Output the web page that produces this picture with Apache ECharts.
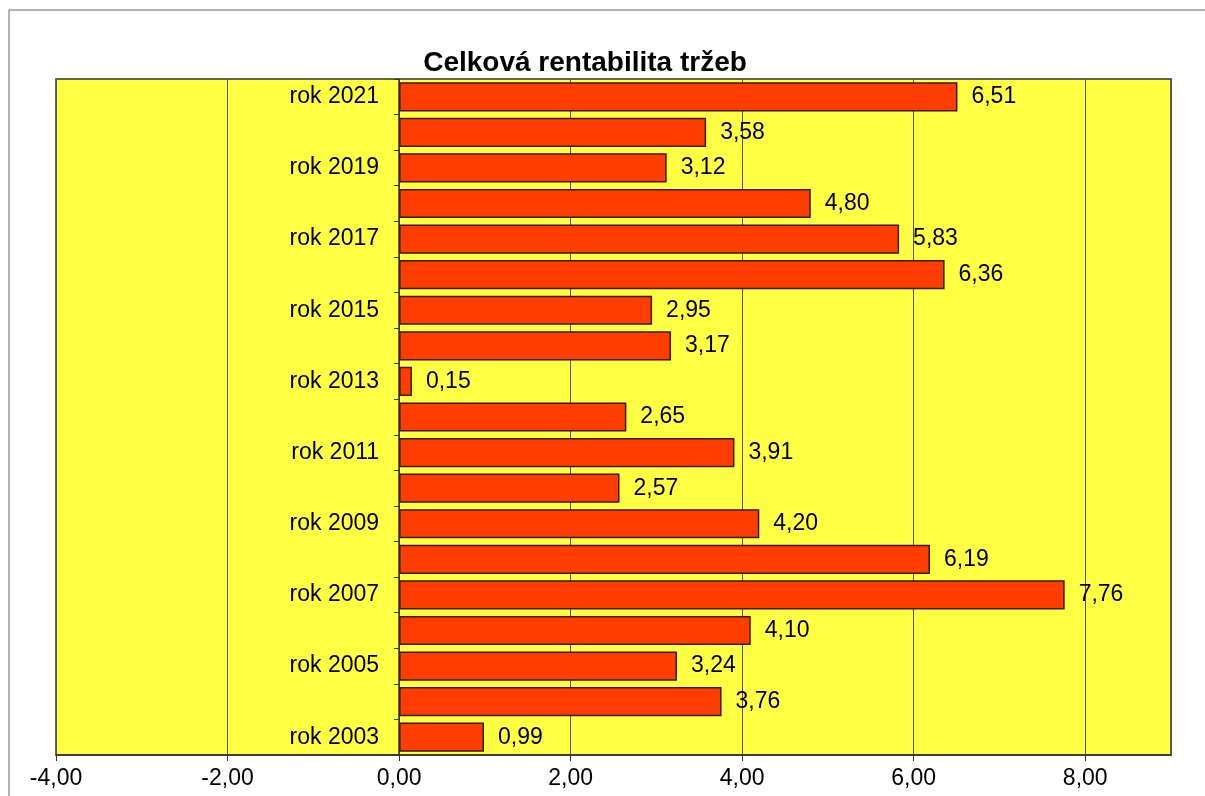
<!DOCTYPE html>
<html><head><meta charset="utf-8">
<script src="https://cdn.jsdelivr.net/npm/echarts@6/dist/echarts.min.js"></script>
<style>html,body{margin:0;padding:0;background:#fff}#c{width:1205px;height:796px}</style>
</head><body><div id="c"></div>
<script>
const titleText = 'Celková rentabilita tržeb';
const years = ['rok 2003','rok 2004','rok 2005','rok 2006','rok 2007','rok 2008','rok 2009','rok 2010','rok 2011','rok 2012','rok 2013','rok 2014','rok 2015','rok 2016','rok 2017','rok 2018','rok 2019','rok 2020','rok 2021'];
const values = [0.99, 3.76, 3.24, 4.10, 7.76, 6.19, 4.20, 2.57, 3.91, 2.65, 0.15, 3.17, 2.95, 6.36, 5.83, 4.80, 3.12, 3.58, 6.51];
const xMin = -4, xMax = 9, xStep = 2;

const chart = echarts.init(document.getElementById('c'), null, {renderer:'canvas'});
const fmt = v => v.toFixed(2).replace('.', ',');
const FF = 'Liberation Sans, Arial';
chart.setOption({
  animation:false,
  backgroundColor:'#fff',
  title:{text:titleText, left:580, top:44, textAlign:'center',
    textStyle:{fontFamily:FF, fontWeight:'bold', fontSize:28, color:'#000'}},
  grid:{left:56, right:34, top:79, bottom:41, containLabel:false, outerBoundsMode:'none',
    show:true, backgroundColor:'#ffff44', borderColor:'#333', borderWidth:1.5},
  xAxis:{type:'value', min:xMin, max:xMax, interval:xStep,
    axisLine:{show:true, lineStyle:{color:'#333', width:1.5}},
    axisTick:{show:true, length:6, lineStyle:{color:'#333'}},
    splitLine:{show:true, lineStyle:{color:'#555', width:1}},
    axisLabel:{showMaxLabel:false, fontFamily:FF, fontSize:23, color:'#000', margin:12, formatter:v=>fmt(v)}},
  yAxis:{type:'category', data:years,
    axisLine:{show:true, onZero:true, lineStyle:{color:'#333', width:1.5}},
    axisTick:{show:true, interval:0, length:5, lineStyle:{color:'#333'}},
    axisLabel:{show:false}},
  series:[
    {type:'bar', data:values, barCategoryGap:'18%',
     itemStyle:{color:'#ff3d00', borderColor:'#3a1a00', borderWidth:1.5},
     label:{show:true, position:'right', distance:14, fontFamily:FF, fontSize:23, color:'#000', formatter:p=>fmt(p.value)}},
    {type:'scatter', symbolSize:0, silent:true,
     itemStyle:{opacity:1},
     data: years.map((y,i)=> i%2===0 ? [0, y] : null).filter(d=>d),
     label:{show:true, position:'left', distance:20, fontFamily:FF, fontSize:23, color:'#000', opacity:1, formatter:p=>p.value[1]}}
  ],
  graphic:[
    {type:'line', shape:{x1:9, y1:10, x2:1205, y2:10}, style:{stroke:'#999', lineWidth:1.5}},
    {type:'line', shape:{x1:9, y1:10, x2:9, y2:796}, style:{stroke:'#999', lineWidth:1.5}}
  ]
});
</script></body></html>
